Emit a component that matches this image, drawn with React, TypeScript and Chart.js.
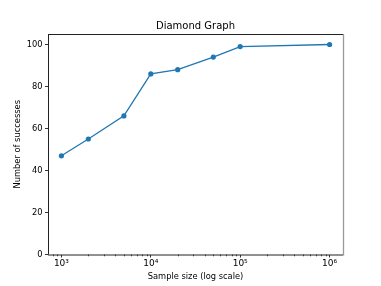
import React, { useEffect, useRef } from "react";
import { Chart, registerables } from "chart.js";

Chart.register(...registerables);

const sampleSizes = [1000, 2000, 5000, 10000, 20000, 50000, 100000, 1000000];
const successes = [47, 55, 66, 86, 88, 94, 99, 100];
const xMajorTicks = [1000, 10000, 100000, 1000000];
const xTickLabels = ["10³", "10⁴", "10⁵", "10⁶"];
const yTicks = [0, 20, 40, 60, 80, 100];

const FONT = "'DejaVu Sans', sans-serif";
const BLUE = "#1f77b4";

export default function App() {
  const ref = useRef<HTMLCanvasElement | null>(null);

  useEffect(() => {
    document.body.style.margin = "0";
    const canvas = ref.current;
    if (!canvas) return;

    const minorPlugin = {
      id: "minorAndFrame",
      afterDraw(chart: any) {
        const ctx = chart.ctx;
        const xs = chart.scales.x;
        const area = chart.chartArea;
        ctx.save();
        ctx.strokeStyle = "#000";
        ctx.lineWidth = 0.7;
        for (let e = 2; e <= 6; e++) {
          for (let m = 2; m <= 9; m++) {
            const v = m * Math.pow(10, e);
            if (v < xs.min || v > xs.max) continue;
            const px = Math.round(xs.getPixelForValue(v)) + 0.5;
            ctx.beginPath();
            ctx.moveTo(px, area.bottom);
            ctx.lineTo(px, area.bottom + 1.8);
            ctx.stroke();
          }
        }
        ctx.lineWidth = 1;
        ctx.strokeStyle = "#222";
        ctx.beginPath();
        ctx.moveTo(area.left, area.top + 0.5);
        ctx.lineTo(area.right, area.top + 0.5);
        ctx.moveTo(area.left + 0.5, area.top);
        ctx.lineTo(area.left + 0.5, area.bottom);
        ctx.moveTo(area.left, area.bottom + 0.5);
        ctx.lineTo(area.right, area.bottom + 0.5);
        ctx.stroke();
        ctx.strokeStyle = "#999";
        ctx.lineWidth = 1.3;
        ctx.beginPath();
        ctx.moveTo(area.right + 0.5, area.top);
        ctx.lineTo(area.right + 0.5, area.bottom + 1);
        ctx.stroke();
        ctx.restore();
      },
    };

    const chart = new Chart(canvas, {
      type: "line",
      data: {
        datasets: [
          {
            data: sampleSizes.map((x, i) => ({ x, y: successes[i] })),
            borderColor: BLUE,
            backgroundColor: BLUE,
            borderWidth: 1.3,
            pointRadius: 2.6,
            pointHoverRadius: 2.6,
            pointBorderWidth: 0,
            pointBackgroundColor: BLUE,
            tension: 0,
          },
        ],
      },
      plugins: [minorPlugin],
      options: {
        animation: false,
        responsive: false,
        events: [],
        layout: { padding: { left: 0, right: 38, top: 0, bottom: 0 } },
        plugins: {
          legend: { display: false },
          tooltip: { enabled: false },
          title: {
            display: true,
            fullSize: false,
            text: "Diamond Graph",
            color: "#000",
            font: { family: FONT, size: 10, weight: "normal" },
            padding: { top: 20, bottom: 2 },
          },
        },
        scales: {
          x: {
            type: "logarithmic",
            min: Math.pow(10, 2.85),
            max: Math.pow(10, 6.15),
            afterBuildTicks(scale: any) {
              scale.ticks = xMajorTicks.map((v) => ({ value: v }));
            },
            afterFit(scale: any) {
              scale.height = 31.5;
            },
            border: { display: false },
            grid: {
              drawOnChartArea: false,
              drawTicks: true,
              tickLength: 3,
              color: "#000",
              tickWidth: 0.8,
            },
            ticks: {
              color: "#000",
              font: { family: FONT, size: 9 },
              padding: 1,
              maxRotation: 0,
              autoSkip: false,
              callback: (v: any) => {
                const i = xMajorTicks.indexOf(Number(v));
                return i >= 0 ? xTickLabels[i] : "";
              },
            },
            title: {
              display: true,
              text: "Sample size (log scale)",
              color: "#000",
              font: { family: FONT, size: 8.3 },
              padding: { top: 0, bottom: 4 },
            },
          },
          y: {
            type: "linear",
            min: 0,
            max: 105,
            afterBuildTicks(scale: any) {
              scale.ticks = yTicks.map((v) => ({ value: v }));
            },
            afterFit(scale: any) {
              scale.width = 48;
            },
            border: { display: false },
            grid: {
              drawOnChartArea: false,
              drawTicks: true,
              tickLength: 3,
              color: "#000",
              tickWidth: 0.8,
            },
            ticks: {
              color: "#000",
              font: { family: FONT, size: 8.3 },
              padding: 2.5,
            },
            title: {
              display: true,
              text: "Number of successes",
              color: "#000",
              font: { family: FONT, size: 8.3 },
              padding: { top: 13, bottom: 0 },
            },
          },
        },
      },
    });

    return () => chart.destroy();
  }, []);

  return <canvas ref={ref} width={381} height={286} style={{ display: "block" }} />;
}
